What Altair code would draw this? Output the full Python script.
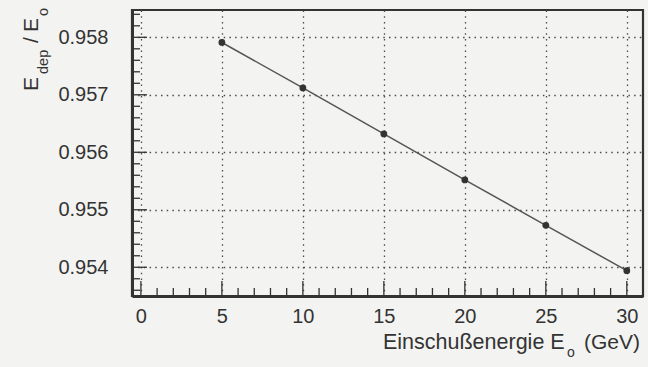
import altair as alt
import pandas as pd

# Data
energy = [5, 10, 15, 20, 25, 30]
ratio = [0.95791, 0.95712, 0.95632, 0.95552, 0.95473, 0.95394]

x_major = [0, 5, 10, 15, 20, 25, 30]
x_minor = [i for i in range(0, 31) if i % 5 != 0]
y_major = [0.954, 0.955, 0.956, 0.957, 0.958]
y_minor = [i / 10000 for i in range(9536, 9585, 2) if i % 10 != 0]

FONT = "Liberation Sans"
INK = "#333333"
BG = "#f3f3f1"

W, H = 511, 286

df = pd.DataFrame({"E": energy, "R": ratio})
xs = alt.Scale(domain=[-0.55, 31.0], nice=False, zero=False)
ys = alt.Scale(domain=[0.9535, 0.958475], nice=False, zero=False)

base_x_axis = alt.Axis(values=x_major, grid=True, gridDash=[1.5, 4.2], gridColor="#4d4d4d",
                       gridWidth=1.3, ticks=False, tickSize=0, domain=True, domainWidth=3,
                       domainColor=INK, labelFont=FONT, labelFontSize=20, labelColor=INK,
                       labelPadding=10, title=None, format="d")
base_y_axis = alt.Axis(values=y_major, grid=True, gridDash=[1.5, 4.2], gridColor="#4d4d4d",
                       gridWidth=1.3, ticks=False, tickSize=0, domain=True, domainWidth=3,
                       domainColor=INK, labelFont=FONT, labelFontSize=20, labelColor=INK,
                       labelPadding=24, title=None, format=".3f")

line = alt.Chart(df).mark_line(color="#555555", strokeWidth=1.5).encode(
    x=alt.X("E:Q", scale=xs, axis=base_x_axis),
    y=alt.Y("R:Q", scale=ys, axis=base_y_axis),
)
pts = alt.Chart(df).mark_circle(color=INK, size=46, opacity=1).encode(
    x=alt.X("E:Q", scale=xs, axis=None),
    y=alt.Y("R:Q", scale=ys, axis=None),
)

xmaj = alt.Chart(pd.DataFrame({"E": x_major})).mark_rule(color=INK, strokeWidth=1.3).encode(
    x=alt.X("E:Q", scale=xs, axis=None), y=alt.value(H), y2=alt.value(H - 15))
xmin = alt.Chart(pd.DataFrame({"E": x_minor})).mark_rule(color=INK, strokeWidth=1.3).encode(
    x=alt.X("E:Q", scale=xs, axis=None), y=alt.value(H), y2=alt.value(H - 8))
ymaj = alt.Chart(pd.DataFrame({"R": y_major})).mark_rule(color=INK, strokeWidth=1.3).encode(
    y=alt.Y("R:Q", scale=ys, axis=None), x=alt.value(0), x2=alt.value(15))
ymin = alt.Chart(pd.DataFrame({"R": y_minor})).mark_rule(color=INK, strokeWidth=1.3).encode(
    y=alt.Y("R:Q", scale=ys, axis=None), x=alt.value(0), x2=alt.value(8))


def txt(s, x, y, size, angle=0):
    kw = dict(font=FONT, fontSize=size, color=INK, align="left", baseline="alphabetic")
    if angle:
        kw["angle"] = angle
    return alt.Chart(pd.DataFrame({"t": [s]})).mark_text(**kw).encode(
        text="t:N", x=alt.value(x), y=alt.value(y))

# y title: E_dep / E_o (rotated)
ytitle = [
    txt("E", -94, 81, 21, 270),
    txt("dep", -84, 64, 14.5, 270),
    txt("/", -94, 33, 21, 270),
    txt("E", -94, 22, 21, 270),
    txt("o", -84, 6, 14.5, 270),
]
# x title: Einschußenergie E_o (GeV)
xtitle = [
    txt("Einschußenergie E", 251, 339, 21.5),
    txt("o", 435, 347, 14),
    txt("(GeV)", 452, 339, 21),
]

chart = alt.layer(line, xmaj, xmin, ymaj, ymin, pts, *ytitle, *xtitle).resolve_axis(
    x="independent", y="independent"
).properties(
    width=W, height=H,
    autosize=alt.AutoSizeParams(type="none"),
    padding={"left": 132, "top": 10, "right": 5, "bottom": 71},
    background=BG,
).configure_view(stroke=INK, strokeWidth=2.2, fill=BG)

chart.save("out.html", embed_options={"renderer": "svg", "actions": False})
